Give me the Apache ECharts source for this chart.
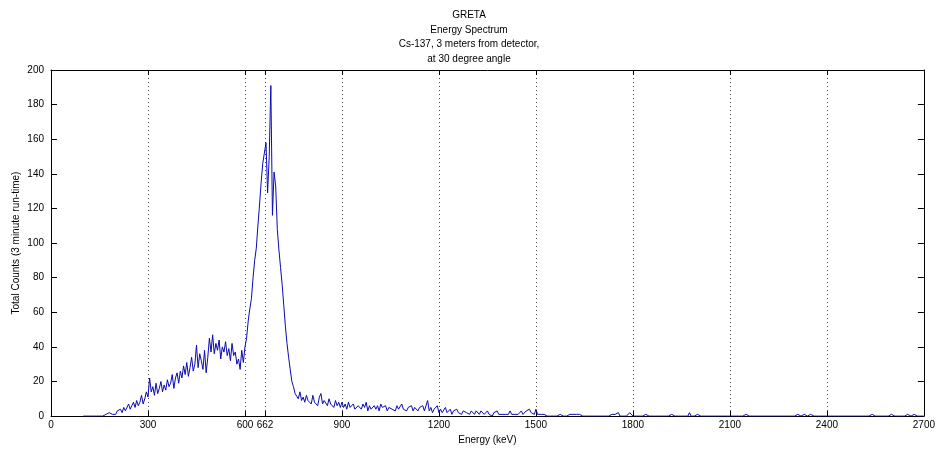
<!DOCTYPE html>
<html>
<head>
<meta charset="utf-8">
<title>GRETA Energy Spectrum</title>
<script src="https://cdn.jsdelivr.net/npm/echarts@6/dist/echarts.min.js"></script>
<style>
    html, body { margin: 0; padding: 0; background: #fff; }
    #chart { width: 938px; height: 450px; }
</style>
</head>
<body>
<div id="chart"></div>
<script>
// spectrum: 5 keV channels starting at 100 keV
const energyStart = 100;
const energyStep = 5;
const counts = [
    0, 0, 0, 0, 0, 1, 0, 1, 0, 1, 0, 1, 0, 1, 1, 0, 2, 1, 1, 2,                  // 100-195
    1, 3, 2, 4, 2, 5, 3, 4, 7, 4, 6, 8, 5, 9, 6, 8, 12, 7, 10, 14,               // 200-295
    11, 22, 14, 17, 12, 19, 13, 16, 20, 14, 18, 15, 21, 17, 19, 24, 16, 22, 25, 19, // 300-395
    26, 22, 29, 24, 31, 23, 28, 34, 26, 30, 41, 28, 36, 32, 27, 38, 25, 34, 45, 37, // 400-495
    47, 36, 42, 38, 44, 33, 40, 37, 43, 35, 39, 32, 42, 35, 37, 30, 33, 27, 38, 31, // 500-595
    40, 45, 55, 62, 68, 80, 90, 97, 110, 122, 135, 146, 152, 158, 129, 150, 191, 116, 141, 133, // 600-695
    108, 96, 86, 76, 64, 52, 42, 34, 27, 20, 17, 13, 12, 10, 14, 9, 11, 8, 12, 9, // 700-795
    10, 7, 12, 8, 8, 6, 11, 13, 7, 9, 9, 6, 10, 7, 8, 5, 9, 6, 8, 5,             // 800-895
    8, 5, 7, 4, 8, 5, 6, 7, 4, 3, 6, 6, 4, 7, 5, 8, 3, 6, 4, 5,                  // 900-995
    6, 4, 6, 3, 7, 5, 4, 6, 3, 5, 6, 4, 5, 3, 6, 4, 5, 7, 4, 5,                  // 1000-1095
    3, 5, 4, 6, 3, 5, 4, 3, 5, 4, 6, 3, 4, 9, 3, 5, 2, 4, 3, 6,                  // 1100-1195
    2, 4, 2, 3, 5, 2, 3, 4, 1, 3, 2, 4, 2, 3, 1, 3, 4, 2, 3, 1,                  // 1200-1295
    3, 2, 1, 3, 2, 1, 3, 2, 1, 2, 3, 1, 2, 0, 2, 1, 3, 1, 2, 1,                  // 1300-1395
    2, 1, 2, 1, 3, 1, 2, 1, 2, 1, 2, 3, 1, 2, 3, 2, 4, 2, 3, 1,                  // 1400-1495
    4, 1, 2, 1, 0, 1, 1, 0, 1, 0, 1, 0, 1, 0, 0, 1, 0, 0, 1, 0,                  // 1500-1595
    0, 1, 0, 1, 2, 1, 0, 1, 1, 0, 1, 0, 1, 0, 1, 0, 1, 0, 1, 0,                  // 1600-1695
    1, 0, 1, 0, 1, 0, 0, 1, 0, 1, 0, 2, 0, 1, 0, 1, 0, 1, 2, 1,                  // 1700-1795
    0, 0, 0, 0, 0, 0, 0, 0, 1, 0, 0, 0, 0, 0, 0, 0, 0, 1, 0, 0,                  // 1800-1895
    0, 0, 0, 0, 1, 0, 0, 0, 0, 0, 0, 0, 0, 0, 0, 2, 0, 0, 0, 0,                  // 1900-1995
    1, 0, 0, 1, 0, 0, 0, 0, 0, 0, 0, 0, 0, 0, 0, 1, 0, 0, 0, 0,                  // 2000-2095
    0, 0, 0, 0, 0, 0, 0, 0, 0, 0, 1, 0, 0, 0, 0, 0, 0, 1, 0, 0,                  // 2100-2195
    0, 0, 0, 0, 0, 0, 0, 1, 0, 0, 0, 0, 0, 0, 0, 1, 0, 0, 0, 0,                  // 2200-2295
    0, 0, 1, 0, 0, 0, 1, 0, 0, 0, 1, 0, 0, 0, 0, 0, 0, 0, 0, 0,                  // 2300-2395
    0, 0, 0, 0, 0, 0, 0, 0, 0, 0, 0, 0, 0, 0, 0, 0, 0, 1, 0, 0,                  // 2400-2495
    0, 0, 0, 0, 0, 0, 0, 0, 1, 0, 0, 0, 0, 0, 0, 0, 0, 0, 0, 0,                  // 2500-2595
    1, 0, 0, 0, 0, 0, 0, 0, 0, 0, 1, 0, 0, 0, 1, 0, 0, 1, 0, 1,                  // 2600-2695
    0                                                                            // 2700
];

const xTicks = [0, 300, 600, 662, 900, 1200, 1500, 1800, 2100, 2400, 2700];
const titleLines = ['GRETA', 'Energy Spectrum', 'Cs-137, 3 meters from detector,', 'at 30 degree angle'];

const font = 'Liberation Sans';
const chart = echarts.init(document.getElementById('chart'));

const spectrum = counts.map((c, i) => [energyStart + i * energyStep, c]);

const frameLine = { show: true, onZero: false, lineStyle: { color: '#000', width: 1 } };
const textStyle = { color: '#000', fontSize: 10, fontFamily: font };
const plain = v => String(v);

let option = {
    animation: false,
    title: {
        text: titleLines.join('\n'),
        left: 'center',
        top: 8,
        padding: [0, 0, 0, 38],
        textStyle: { ...textStyle, fontWeight: 'normal', lineHeight: 14.5 }
    },
    grid: { left: 51, right: 13, top: 70, bottom: 32 },
    xAxis: [
        {
            type: 'value', min: 0, max: 2700, position: 'bottom', z: 3,
            name: 'Energy (keV)', nameLocation: 'middle', nameGap: 17,
            nameTextStyle: textStyle,
            axisLine: frameLine,
            axisTick: { show: true, inside: true, length: 5, customValues: xTicks, lineStyle: { color: '#000' } },
            axisLabel: { customValues: xTicks, margin: 4, formatter: plain, ...textStyle },
            splitLine: { show: true, lineStyle: { type: [1, 3], color: '#444', width: 1 } }
        },
        {
            type: 'value', min: 0, max: 2700, position: 'top', z: 3,
            axisLine: frameLine,
            axisTick: { show: true, inside: true, length: 5, customValues: xTicks, lineStyle: { color: '#000' } },
            axisLabel: { show: false },
            splitLine: { show: false }
        }
    ],
    yAxis: [
        {
            type: 'value', min: 0, max: 200, interval: 20, position: 'left', z: 3,
            name: 'Total Counts (3 minute run-time)', nameLocation: 'middle', nameGap: 30,
            nameMoveOverlap: false,
            nameTextStyle: textStyle,
            axisLine: frameLine,
            axisTick: { show: true, inside: true, length: 6, lineStyle: { color: '#000' } },
            axisLabel: { margin: 7, formatter: plain, ...textStyle },
            splitLine: { show: false }
        },
        {
            type: 'value', min: 0, max: 200, interval: 20, position: 'right', z: 3,
            axisLine: frameLine,
            axisTick: { show: true, inside: true, length: 6, lineStyle: { color: '#000' } },
            axisLabel: { show: false },
            splitLine: { show: false }
        }
    ],
    series: [
        {
            type: 'line',
            xAxisIndex: 0,
            yAxisIndex: 0,
            data: spectrum,
            symbol: 'none',
            silent: true,
            lineStyle: { color: '#0a0ab4', width: 1 }
        }
    ]
};

chart.setOption(option);
</script>
</body>
</html>
